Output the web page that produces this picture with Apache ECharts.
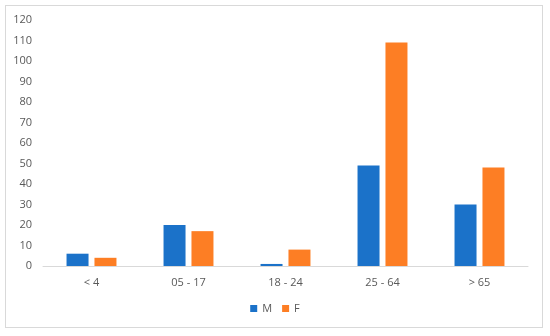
<!DOCTYPE html>
<html><head><meta charset="utf-8">
<script src="https://cdn.jsdelivr.net/npm/echarts@6/dist/echarts.min.js"></script>
<style>html,body{margin:0;padding:0;background:#fff}
#frame{position:absolute;left:5px;top:5px;width:538px;height:323px;border:1px solid #d9d9d9;box-sizing:border-box}
#c{position:absolute;left:0;top:0;width:550px;height:336px}</style>
</head><body><div id="frame"></div><div id="c"></div>
<script>
const categories = ['< 4', '05 - 17', '18 - 24', '25 - 64', '> 65'];
const seriesM = [6, 20, 1, 49, 30];
const seriesF = [4, 17, 8, 109, 48];
const yTicks = {min: 0, max: 120, interval: 10};

const chart = echarts.init(document.getElementById('c'));
const txt = {color: '#595959', fontFamily: 'Open Sans, Liberation Sans, sans-serif', fontSize: 11};
chart.setOption({
  animation: false,
  grid: {left: 43, right: 22, top: 20, bottom: 70},
  legend: {bottom: 17, left: 'center', itemWidth: 7, itemHeight: 7, itemGap: 10, textStyle: txt,
    data: [{name: 'M', icon: 'rect'}, {name: 'F', icon: 'rect'}]},
  xAxis: {type: 'category', data: categories,
    axisLine: {lineStyle: {color: '#d9d9d9'}}, axisTick: {show: false},
    axisLabel: Object.assign({margin: 11}, txt)},
  yAxis: {type: 'value', min: yTicks.min, max: yTicks.max, interval: yTicks.interval,
    splitLine: {show: false}, axisLine: {show: false}, axisTick: {show: false},
    axisLabel: Object.assign({margin: 11}, txt)},
  series: [
    {name: 'M', type: 'bar', data: seriesM, barWidth: 22, barGap: '27%', itemStyle: {color: '#1b72c9'}},
    {name: 'F', type: 'bar', data: seriesF, barWidth: 22, itemStyle: {color: '#fd7e24'}}
  ]
});
</script></body></html>
